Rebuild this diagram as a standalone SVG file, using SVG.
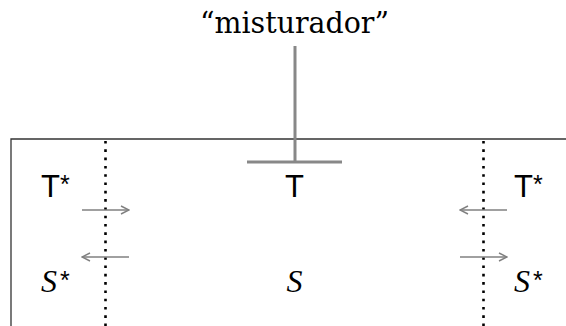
<svg xmlns="http://www.w3.org/2000/svg" width="566" height="326" viewBox="0 0 566 326">
<defs>
<marker id="ah" viewBox="0 0 10 10" refX="9" refY="5" markerWidth="10" markerHeight="10" markerUnits="userSpaceOnUse" orient="auto-start-reverse">
<path d="M1,1 L9,5 L1,9" fill="none" stroke="#808080" stroke-width="1.4"/>
</marker>
</defs>
<style>
.box{stroke:#333;stroke-width:1.3;fill:none}
.mix{stroke:#888;stroke-width:3;fill:none}
.dot{stroke:#000;stroke-width:2.6;stroke-dasharray:2.6 5.7;fill:none}
.arr{stroke:#808080;stroke-width:1.5;fill:none}
.t{font-family:"Liberation Sans",Arial,sans-serif;font-size:31px;fill:#000}
.s{font-family:"Liberation Serif","Times New Roman",serif;font-style:italic;font-size:32px;fill:#000}
.ast{font-family:"Liberation Sans",Arial,sans-serif;font-size:25px;fill:#000}
.title{font-family:"DejaVu Serif",serif;font-size:29px;fill:#000}
</style>
<g id="frame">
<path class="box" d="M11,326 V139 H566"/>
</g>
<g id="mixer">
<text class="title" x="294.5" y="33" text-anchor="middle" textLength="189" lengthAdjust="spacingAndGlyphs">“misturador”</text>
<path class="mix" d="M295,46 V162 M247,162 H342"/>
</g>
<g id="membranes">
<line class="dot" x1="105.5" y1="141" x2="105.5" y2="326"/>
<line class="dot" x1="483.5" y1="141" x2="483.5" y2="326"/>
</g>
<g id="left">
<text class="t" x="41" y="197">T</text><text class="ast" x="60" y="193">*</text>
<text class="s" x="41" y="292">S</text><text class="ast" x="60" y="289">*</text>
</g>
<g id="center">
<text class="t" x="294.5" y="197" text-anchor="middle">T</text>
<text class="s" x="294.5" y="292" text-anchor="middle">S</text>
</g>
<g id="right">
<text class="t" x="514" y="197">T</text><text class="ast" x="533" y="193">*</text>
<text class="s" x="514" y="292">S</text><text class="ast" x="533" y="289">*</text>
</g>
<g id="connectors">
<line class="arr" x1="82" y1="210" x2="129" y2="210" marker-end="url(#ah)"/>
<line class="arr" x1="129" y1="257" x2="82" y2="257" marker-end="url(#ah)"/>
<line class="arr" x1="507" y1="210" x2="460" y2="210" marker-end="url(#ah)"/>
<line class="arr" x1="460" y1="257" x2="507" y2="257" marker-end="url(#ah)"/>
</g>
</svg>
